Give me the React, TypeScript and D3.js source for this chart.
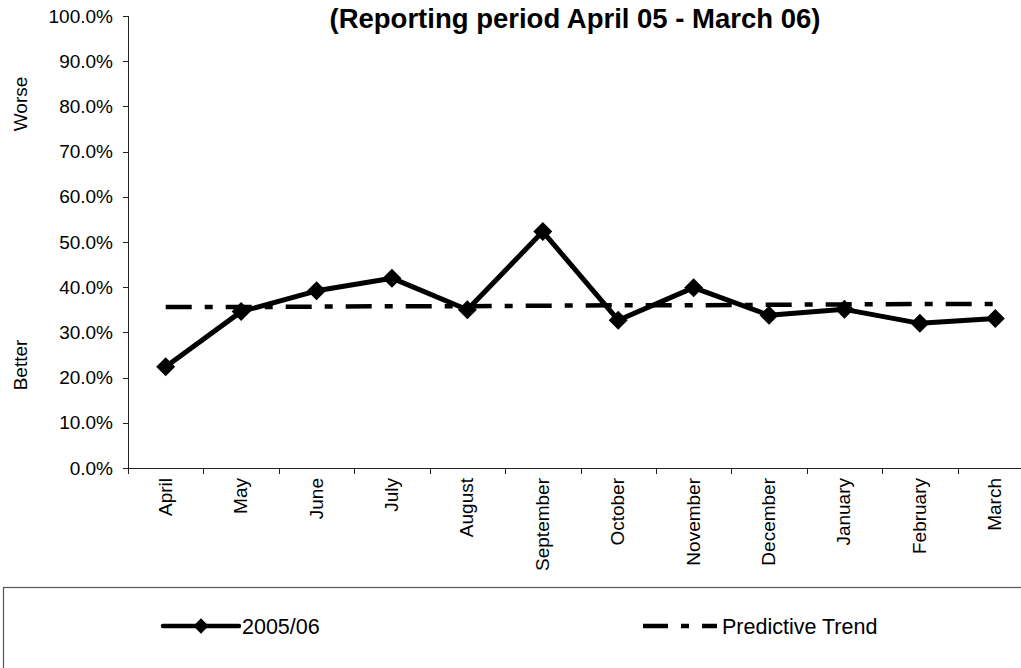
import { useEffect, useRef } from "react";
import * as d3 from "d3";

const MONTHS = [
  "April", "May", "June", "July", "August", "September",
  "October", "November", "December", "January", "February", "March",
];

// Percent values
const SERIES_2005 = [22.4, 34.6, 39.2, 42.0, 35.0, 52.3, 32.7, 39.9, 33.8, 35.1, 32.0, 33.1];
const PREDICTIVE_TREND = [35.6, 35.6, 35.7, 35.8, 35.8, 35.9, 36.0, 36.0, 36.1, 36.2, 36.3, 36.3];

const Y_TICKS = [0, 10, 20, 30, 40, 50, 60, 70, 80, 90, 100];

const TITLE = "(Reporting period April 05 - March 06)";
const LEGEND_LABELS = ["2005/06", "Predictive Trend"];

const W = 1021;
const H = 668;
const FONT = "Arial, 'Liberation Sans', sans-serif";

export default function App() {
  const svgRef = useRef<SVGSVGElement>(null);

  useEffect(() => {
    const svg = d3.select(svgRef.current);
    svg.selectAll("*").remove();

    // plot area runs past the right edge, as in the cropped original
    const x = d3.scaleBand<string>().domain(MONTHS).range([128, 1033]);
    const y = d3.scaleLinear().domain([0, 100]).range([468, 16]);
    const cx = (m: string) => (x(m) ?? 0) + x.bandwidth() / 2;

    // ── Title ──────────────────────────────────────────────
    svg.append("text")
      .attr("x", 575)
      .attr("y", 28)
      .attr("text-anchor", "middle")
      .attr("font-family", FONT)
      .attr("font-weight", "700")
      .attr("font-size", "27.5px")
      .text(TITLE);

    // ── Y axis ─────────────────────────────────────────────
    const yAxis = svg.append("g");
    yAxis.append("line")
      .attr("x1", 128.5).attr("x2", 128.5)
      .attr("y1", y(100)).attr("y2", y(0))
      .attr("stroke", "#222");
    yAxis.selectAll("line.tick")
      .data(Y_TICKS)
      .join("line")
      .attr("class", "tick")
      .attr("x1", 123).attr("x2", 128)
      .attr("y1", (d) => Math.round(y(d)) + 0.5)
      .attr("y2", (d) => Math.round(y(d)) + 0.5)
      .attr("stroke", "#222");
    yAxis.selectAll("text")
      .data(Y_TICKS)
      .join("text")
      .attr("x", 113)
      .attr("y", (d) => y(d))
      .attr("dy", "0.35em")
      .attr("text-anchor", "end")
      .attr("font-family", FONT)
      .attr("font-size", "19px")
      .text((d) => d3.format(".1f")(d) + "%");

    // side notes
    [["Worse", 104], ["Better", 365]].forEach(([t, cy]) => {
      svg.append("text")
        .attr("transform", `translate(27,${cy}) rotate(-90)`)
        .attr("text-anchor", "middle")
        .attr("font-family", FONT)
        .attr("font-size", "19px")
        .text(t as string);
    });

    // ── X axis ─────────────────────────────────────────────
    const xAxis = svg.append("g");
    xAxis.append("line")
      .attr("x1", 128).attr("x2", W)
      .attr("y1", 468.5).attr("y2", 468.5)
      .attr("stroke", "#222");
    xAxis.selectAll("line.tick")
      .data(MONTHS)
      .join("line")
      .attr("class", "tick")
      .attr("x1", (d) => Math.round(x(d) ?? 0) + 0.5)
      .attr("x2", (d) => Math.round(x(d) ?? 0) + 0.5)
      .attr("y1", 468).attr("y2", 474)
      .attr("stroke", "#222");
    xAxis.selectAll("text")
      .data(MONTHS)
      .join("text")
      .attr("transform", (d) => `translate(${cx(d) + 6},478) rotate(-90)`)
      .attr("text-anchor", "end")
      .attr("font-family", FONT)
      .attr("font-size", "19px")
      .text((d) => d);

    // ── Predictive trend ───────────────────────────────────
    const line = d3.line<number>()
      .x((_, i) => cx(MONTHS[i]))
      .y((v) => y(v));

    svg.append("path")
      .attr("d", line(PREDICTIVE_TREND) ?? "")
      .attr("fill", "none")
      .attr("stroke", "#000")
      .attr("stroke-width", 4.5)
      .attr("stroke-dasharray", "26,13,8,13");

    // ── 2005/06 series ─────────────────────────────────────
    svg.append("path")
      .attr("d", line(SERIES_2005) ?? "")
      .attr("fill", "none")
      .attr("stroke", "#000")
      .attr("stroke-width", 5)
      .attr("stroke-linejoin", "round");

    const diamond = d3.symbol().type(d3.symbolDiamond2).size(230)();
    svg.selectAll("path.pt")
      .data(SERIES_2005)
      .join("path")
      .attr("class", "pt")
      .attr("d", diamond)
      .attr("transform", (v, i) => `translate(${cx(MONTHS[i])},${y(v)})`)
      .attr("fill", "#000");

    // ── Legend ─────────────────────────────────────────────
    svg.append("rect")
      .attr("x", 3.5).attr("y", 587.5)
      .attr("width", 1100).attr("height", 200)
      .attr("fill", "none")
      .attr("stroke", "#555")
      .attr("stroke-width", 1.2);

    const ly = 626;
    svg.append("line")
      .attr("x1", 163).attr("x2", 239)
      .attr("y1", ly).attr("y2", ly)
      .attr("stroke", "#000").attr("stroke-width", 4.5)
      .attr("stroke-linecap", "round");
    svg.append("path")
      .attr("d", d3.symbol().type(d3.symbolDiamond2).size(150)())
      .attr("transform", `translate(201,${ly})`)
      .attr("fill", "#000");
    svg.append("text")
      .attr("x", 242).attr("y", ly).attr("dy", "0.35em")
      .attr("font-family", FONT).attr("font-size", "21.5px")
      .text(LEGEND_LABELS[0]);

    svg.append("line")
      .attr("x1", 643).attr("x2", 717)
      .attr("y1", ly).attr("y2", ly)
      .attr("stroke", "#000").attr("stroke-width", 4.5)
      .attr("stroke-dasharray", "25,13,8,13");
    svg.append("text")
      .attr("x", 722).attr("y", ly).attr("dy", "0.35em")
      .attr("font-family", FONT).attr("font-size", "21.5px")
      .text(LEGEND_LABELS[1]);
  }, []);

  return (
    <svg
      ref={svgRef}
      width={W}
      height={H}
      style={{ position: "fixed", left: 0, top: 0, background: "#fff" }}
    />
  );
}
